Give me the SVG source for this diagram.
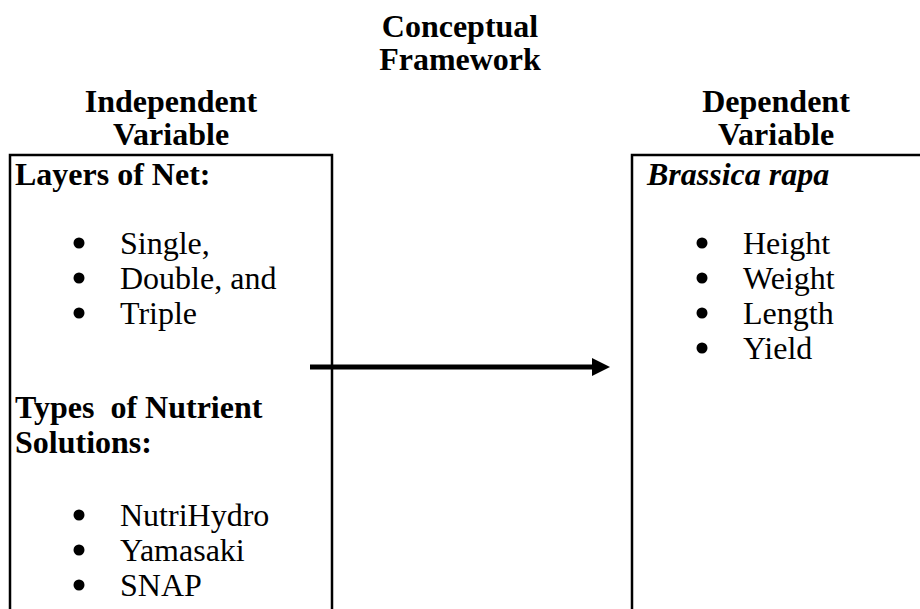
<svg xmlns="http://www.w3.org/2000/svg" width="920" height="609" viewBox="0 0 920 609">
<style>
text{font-family:"Liberation Serif","Times New Roman",serif;font-size:32px;fill:#000}
.b{font-weight:bold}
.c{text-anchor:middle}
.i{font-style:italic}
.box{fill:none;stroke:#000;stroke-width:2.5}
.dot{fill:#000}
</style>
<rect width="920" height="609" fill="#fff"/>
<g id="title">
<text class="b c" x="460" y="37">Conceptual</text>
<text class="b c" x="460" y="70">Framework</text>
</g>
<g id="independent">
<text class="b c" x="171" y="112">Independent</text>
<text class="b c" x="171" y="145">Variable</text>
<path class="box" d="M10,620 V155 H332 V620"/>
<text class="b" x="15" y="185">Layers of Net:</text>
<circle class="dot" cx="79" cy="243" r="5.5"/><text x="120" y="254">Single,</text>
<circle class="dot" cx="79" cy="278" r="5.5"/><text x="120" y="289">Double, and</text>
<circle class="dot" cx="79" cy="313" r="5.5"/><text x="120" y="324">Triple</text>
<text class="b" x="15" y="418" xml:space="preserve">Types  of Nutrient</text>
<text class="b" x="15" y="453">Solutions:</text>
<circle class="dot" cx="79" cy="515" r="5.5"/><text x="120" y="526">NutriHydro</text>
<circle class="dot" cx="79" cy="550" r="5.5"/><text x="120" y="561">Yamasaki</text>
<circle class="dot" cx="79" cy="585" r="5.5"/><text x="120" y="596">SNAP</text>
</g>
<g id="dependent">
<text class="b c" x="776" y="112">Dependent</text>
<text class="b c" x="776" y="145">Variable</text>
<path class="box" d="M632,620 V155 H930"/>
<text class="b i" x="647" y="185">Brassica rapa</text>
<circle class="dot" cx="702" cy="243" r="5.5"/><text x="743" y="254">Height</text>
<circle class="dot" cx="702" cy="278" r="5.5"/><text x="743" y="289">Weight</text>
<circle class="dot" cx="702" cy="313" r="5.5"/><text x="743" y="324">Length</text>
<circle class="dot" cx="702" cy="348" r="5.5"/><text x="743" y="359">Yield</text>
</g>
<g id="connectors">
<line x1="310" y1="367" x2="595" y2="367" stroke="#000" stroke-width="5"/>
<path d="M592,358 L610,367 L592,376 Z" fill="#000"/>
</g>
</svg>
